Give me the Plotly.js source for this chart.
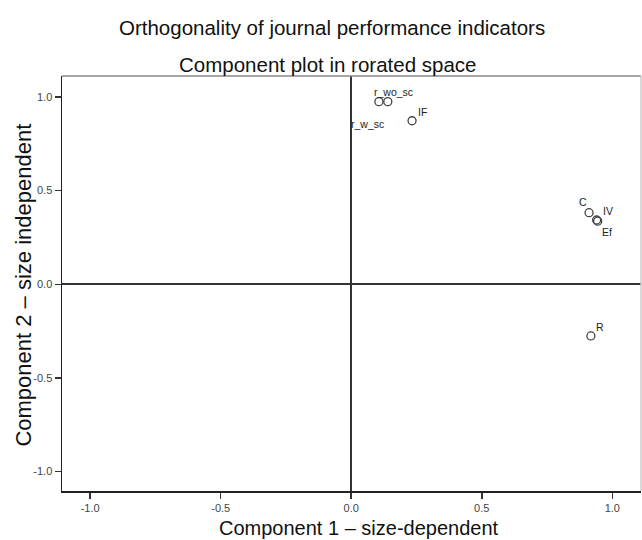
<!DOCTYPE html>
<html>
<head>
<meta charset="utf-8">
<script src="https://cdn.plot.ly/plotly-3.0.1.min.js"></script>
<style>
  html, body { margin: 0; padding: 0; background: #fff; }
  #chart { width: 642px; height: 540px; }
</style>
</head>
<body>
<div id="chart"></div>
<script>
// ---- data ----
const indicators = ["r_w_sc", "r_wo_sc", "IF", "C", "IV", "Ef", "R"];
const component1 = [0.106, 0.140, 0.233, 0.911, 0.940, 0.944, 0.918];
const component2 = [0.975, 0.975, 0.873, 0.382, 0.343, 0.337, -0.276];
const tickValues = [-1.0, -0.5, 0.0, 0.5, 1.0];
const tickLabels = ["-1.0", "-0.5", "0.0", "0.5", "1.0"];
const chartTitle = ["Orthogonality of journal performance indicators", "Component plot in rorated space"];
const xAxisTitle = "Component 1 \u2013 size-dependent";
const yAxisTitle = "Component 2 \u2013 size independent";

// ---- label placement (pixel offsets from each point; styling only) ----
const labelShiftX = [-11, 6, 10, -6, 11, 9, 9];
const labelShiftY = [-22, 10, 9, 11, 9, -11, 9];

const FONT = '"Liberation Sans", Arial, "DejaVu Sans", sans-serif';

const trace = {
  type: 'scatter',
  mode: 'markers',
  x: component1,
  y: component2,
  text: indicators,
  hoverinfo: 'text+x+y',
  marker: {
    symbol: 'circle',
    size: 8,
    color: 'rgba(255,255,255,0)',
    line: { color: '#444', width: 1.3 }
  },
  showlegend: false
};

const pointLabels = indicators.map((name, i) => ({
  x: component1[i],
  y: component2[i],
  xref: 'x', yref: 'y',
  text: name,
  showarrow: false,
  xshift: labelShiftX[i],
  yshift: labelShiftY[i],
  font: { family: FONT, size: 10.5, color: '#222' }
}));

const titlePos = [{ x: 0.4663, y: 1.118 }, { x: 0.4585, y: 1.028 }];
const titleLines = chartTitle.map((t, i) => ({
  x: titlePos[i].x, xref: 'paper', y: titlePos[i].y, yref: 'paper',
  xanchor: 'center', yanchor: 'middle',
  text: t, showarrow: false,
  font: { family: FONT, size: 20.5, color: '#111' }
}));

const axisTitles = [
  {
    x: 0.5135, xref: 'paper', y: -0.089, yref: 'paper',
    xanchor: 'center', yanchor: 'middle',
    text: xAxisTitle, showarrow: false,
    font: { family: FONT, size: 20, color: '#111' }
  },
  {
    x: -0.0656, xref: 'paper', y: 0.495, yref: 'paper',
    xanchor: 'center', yanchor: 'middle', textangle: -90,
    text: yAxisTitle, showarrow: false,
    font: { family: FONT, size: 22, color: '#111' }
  }
];

const axisCommon = {
  tickvals: tickValues,
  ticktext: tickLabels,
  ticks: 'outside',
  ticklen: 6,
  tickwidth: 1.5,
  tickcolor: '#333',
  tickfont: { family: FONT, size: 11, color: '#444' },
  showgrid: false,
  zeroline: true,
  zerolinecolor: '#333',
  zerolinewidth: 1.6,
  showline: true,
  linecolor: '#222',
  linewidth: 1.5,
  mirror: false
};

const layout = {
  width: 642,
  height: 540,
  margin: { l: 62, r: 1, t: 76, b: 49, pad: 0 },
  paper_bgcolor: '#fff',
  plot_bgcolor: '#fff',
  font: { family: FONT, color: '#222' },
  xaxis: Object.assign({ range: [-1.108, 1.11] }, axisCommon),
  yaxis: Object.assign({ range: [-1.104, 1.112] }, axisCommon),
  shapes: [
    { type: 'line', xref: 'paper', yref: 'paper', x0: 0, x1: 1, y0: 1, y1: 1, line: { color: '#888', width: 1.5 } },
    { type: 'line', xref: 'paper', yref: 'paper', x0: 1, x1: 1, y0: 0, y1: 1, line: { color: '#ccc', width: 1.5 } }
  ],
  annotations: titleLines.concat(axisTitles, pointLabels)
};

Plotly.newPlot('chart', [trace], layout, { displayModeBar: false, staticPlot: true });
</script>
</body>
</html>
